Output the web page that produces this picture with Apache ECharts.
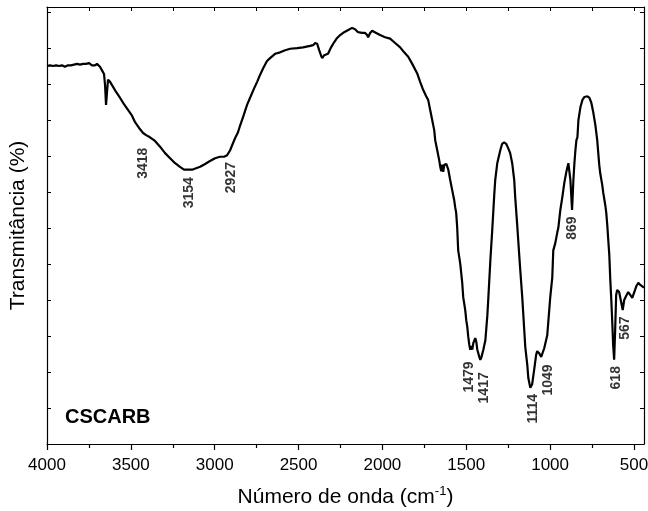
<!DOCTYPE html>
<html>
<head>
<meta charset="utf-8">
<script src="https://cdn.jsdelivr.net/npm/echarts@6/dist/echarts.min.js"></script>
<style>
  html, body { margin: 0; padding: 0; background: #fff; }
  #chart { width: 648px; height: 511px; }
</style>
</head>
<body>
<div id="chart"></div>
<script>
// FTIR spectrum of sample CSCARB: wavenumber (cm-1) vs transmittance (arbitrary units)
const wavenumbers = [
  4000, 3982, 3964, 3946, 3928, 3911, 3893, 3875, 3857, 3839, 3821, 3803, 3785, 3767, 3749,
  3732, 3714, 3702, 3684, 3672, 3660, 3654, 3648, 3642, 3636, 3624, 3606, 3588, 3565, 3541,
  3517, 3493, 3475, 3451, 3427, 3409, 3386, 3356, 3326, 3296, 3266, 3236, 3207, 3183, 3159,
  3135, 3111, 3087, 3057, 3028, 2998, 2968, 2944, 2926, 2908, 2896, 2878, 2861, 2849, 2831,
  2807, 2789, 2765, 2747, 2729, 2711, 2688, 2670, 2640, 2610, 2580, 2550, 2509, 2473, 2431,
  2413, 2401, 2389, 2377, 2365, 2359, 2347, 2336, 2324, 2306, 2288, 2270, 2252, 2228, 2204,
  2181, 2163, 2145, 2121, 2103, 2091, 2085, 2073, 2061, 2037, 2014, 1984, 1954, 1924, 1894,
  1870, 1846, 1822, 1793, 1775, 1757, 1739, 1727, 1715, 1703, 1691, 1685, 1673, 1661, 1655,
  1649, 1643, 1637, 1631, 1619, 1607, 1596, 1584, 1572, 1566, 1560, 1554, 1548, 1536, 1524,
  1518, 1506, 1500, 1494, 1488, 1482, 1476, 1470, 1464, 1458, 1446, 1440, 1434, 1422, 1416,
  1410, 1398, 1386, 1374, 1368, 1356, 1345, 1333, 1327, 1315, 1297, 1286, 1274, 1262, 1250,
  1238, 1226, 1214, 1208, 1196, 1190, 1178, 1166, 1154, 1148, 1136, 1130, 1118, 1113, 1107,
  1095, 1083, 1077, 1065, 1053, 1047, 1035, 1017, 999, 987, 981, 969, 957, 951, 939,
  927, 915, 903, 891, 885, 879, 869, 861, 855, 849, 843, 837, 831, 819, 807,
  795, 778, 766, 754, 742, 730, 719, 707, 701, 689, 683, 671, 665, 659, 653,
  647, 641, 635, 629, 624, 618, 612, 606, 600, 588, 576, 567, 558, 546, 534,
  522, 510, 498, 486, 474, 462, 450, 440
];

const transmittance = [
  52.5, 52.6, 52.5, 52.6, 52.5, 52.6, 52.4, 52.6, 52.6, 52.7, 52.8, 52.7, 52.8, 52.8, 52.9,
  52.6, 52.6, 52.8, 52.4, 51.9, 51.4, 49.9, 47.1, 48.9, 50.6, 50.3, 49.6, 48.9, 48.1, 47.2,
  46.4, 45.6, 44.7, 43.9, 43.2, 42.9, 42.6, 42.1, 41.3, 40.4, 39.7, 39.0, 38.5, 38.1, 38.1,
  38.1, 38.3, 38.5, 38.9, 39.3, 39.7, 39.9, 39.9, 40.1, 40.8, 41.5, 42.5, 43.3, 44.2, 45.4,
  47.1, 48.1, 49.4, 50.3, 51.3, 52.2, 53.2, 53.6, 54.2, 54.4, 54.7, 54.9, 55.0, 55.1, 55.3,
  55.4, 55.7, 55.6, 54.7, 53.9, 53.6, 54.0, 53.8, 54.2, 55.1, 55.8, 56.4, 56.8, 57.2, 57.5,
  57.8, 57.6, 57.2, 57.1, 57.1, 56.8, 56.5, 57.1, 57.4, 57.1, 56.8, 56.5, 56.3, 55.7, 55.1,
  54.4, 53.8, 52.8, 51.5, 50.3, 49.2, 48.3, 47.8, 46.4, 45.0, 43.6, 42.2, 40.8, 39.4, 38.5,
  37.9, 38.8, 37.8, 38.8, 38.9, 38.1, 36.7, 35.3, 33.9, 32.9, 32.1, 30.1, 26.9, 25.1, 22.4,
  20.4, 18.6, 17.2, 16.3, 14.9, 13.8, 13.1, 13.6, 13.1, 14.0, 14.7, 14.2, 13.1, 12.1, 11.7,
  12.0, 13.1, 14.4, 17.9, 20.4, 25.6, 29.7, 34.6, 36.7, 39.0, 40.8, 41.7, 41.9, 41.7, 41.1,
  40.4, 39.0, 36.7, 34.3, 30.4, 28.3, 24.2, 20.4, 15.8, 13.5, 11.0, 9.2, 7.8, 7.6, 8.3,
  10.3, 12.4, 12.9, 12.6, 12.1, 12.1, 13.3, 15.1, 20.4, 23.1, 26.9, 27.9, 29.4, 30.0, 32.5,
  34.3, 36.3, 37.8, 39.0, 38.8, 36.7, 32.5, 36.7, 39.0, 40.8, 42.2, 42.6, 45.0, 46.8, 47.8,
  48.2, 48.3, 48.1, 47.4, 46.0, 44.3, 42.2, 38.8, 37.6, 36.0, 34.9, 33.2, 32.1, 30.4, 28.3,
  26.3, 22.8, 20.0, 16.8, 13.8, 11.7, 15.8, 20.7, 21.4, 21.1, 19.7, 18.6, 20.0, 20.6, 21.1,
  20.7, 20.3, 21.1, 21.9, 22.4, 22.1, 21.9, 21.7
];

// Assigned absorption bands and the level at which each label sits
const peakWavenumbers = [3418, 3154, 2927, 1479, 1417, 1114, 1049, 869, 618, 567];
const peakLabelLevels = [39.0, 34.9, 37.0, 9.3, 7.8, 4.9, 8.9, 30.0, 9.2, 16.1];

// Axis ticks
const xMajorTicks = [4000, 3500, 3000, 2500, 2000, 1500, 1000, 500];
const xMinorTicks = [3750, 3250, 2750, 2250, 1750, 1250, 750];

const sampleName = 'CSCARB';

// Small sideways nudges (px) so crowded band labels do not collide
const labelNudge = { 2927: 4, 1417: 4, 1049: 6, 1114: 2, 618: 2, 567: 2, 3418: -1, 1479: -1 };

const FONT = '"Liberation Sans", Arial, Helvetica, sans-serif';
const X_MIN = 440, X_MAX = 4000, Y_MIN = 0, Y_MAX = 60.7;

const spectrum = wavenumbers.map((w, i) => [w, transmittance[i]]);
// labels are rotated 90°, so the second offset component moves them sideways on screen
const bandLabels = peakWavenumbers.map((w, i) => ({
  value: [w, peakLabelLevels[i]],
  label: { offset: [0, labelNudge[w] || 0] }
}));
const allQuarterTicks = xMajorTicks.concat(xMinorTicks).sort((a, b) => b - a);

const chart = echarts.init(document.getElementById('chart'), null, { renderer: 'canvas' });

const baseX = {
  type: 'value', min: X_MIN, max: X_MAX, inverse: true,
  splitLine: { show: false }
};
const baseY = {
  type: 'value', min: Y_MIN, max: Y_MAX, interval: 5,
  splitLine: { show: false }, axisLabel: { show: false }
};

chart.setOption({
  animation: false,
  backgroundColor: '#ffffff',
  grid: { left: 47, right: 4, top: 7, bottom: 67, containLabel: false, outerBoundsMode: 'none' },
  xAxis: [
    Object.assign({}, baseX, {
      position: 'bottom',
      axisLine: { show: true, lineStyle: { color: '#000', width: 1.2 } },
      axisTick: { show: true, inside: false, length: 6, customValues: xMajorTicks,
                  lineStyle: { color: '#000', width: 1.2 } },
      axisLabel: { show: true, customValues: xMajorTicks, margin: 13,
                   formatter: v => String(v),
                   color: '#000', fontSize: 17, fontFamily: FONT },
      name: '{t|Número de onda (cm}{s|-1}{t|)}',
      nameLocation: 'middle',
      nameGap: 41,
      nameTextStyle: {
        rich: {
          t: { fontSize: 21, fontFamily: FONT, color: '#000', lineHeight: 24 },
          s: { fontSize: 13, fontFamily: FONT, color: '#000', verticalAlign: 'top', lineHeight: 24, padding: [0, 0, 9, 0] }
        }
      }
    }),
    Object.assign({}, baseX, {
      position: 'bottom',
      axisLine: { show: false },
      axisTick: { show: true, inside: false, length: 4, customValues: xMinorTicks,
                  lineStyle: { color: '#000', width: 1.2 } },
      axisLabel: { show: false }
    }),
    Object.assign({}, baseX, {
      position: 'top',
      axisLine: { show: true, lineStyle: { color: '#000', width: 1.2 } },
      axisTick: { show: true, inside: true, length: 4, customValues: allQuarterTicks,
                  lineStyle: { color: '#000', width: 1 } },
      axisLabel: { show: false }
    })
  ],
  yAxis: [
    Object.assign({}, baseY, {
      position: 'left',
      axisLine: { show: true, lineStyle: { color: '#000', width: 1.2 } },
      axisTick: { show: true, inside: true, length: 4, lineStyle: { color: '#000', width: 1 } },
      name: 'Transmitância (%)',
      nameLocation: 'middle',
      nameGap: 18,
      nameTextStyle: { fontSize: 21, fontFamily: FONT, color: '#000' }
    }),
    Object.assign({}, baseY, {
      position: 'right',
      axisLine: { show: true, lineStyle: { color: '#000', width: 1.2 } },
      axisTick: { show: true, inside: true, length: 4, lineStyle: { color: '#000', width: 1 } }
    })
  ],
  series: [
    {
      name: sampleName,
      type: 'line',
      xAxisIndex: 0, yAxisIndex: 0,
      data: spectrum,
      showSymbol: false,
      symbol: 'none',
      smooth: false,
      lineStyle: { color: '#000', width: 2.2 },
      z: 3
    },
    {
      name: 'bands',
      type: 'scatter',
      xAxisIndex: 0, yAxisIndex: 0,
      data: bandLabels,
      symbolSize: 0,
      silent: true,
      label: {
        show: true,
        position: 'inside',
        rotate: 90,
        formatter: p => String(p.value[0]),
        color: '#000',
        fontSize: 14,
        fontWeight: 'bold',
        fontFamily: FONT
      },
      z: 4
    }
  ],
  graphic: [
    {
      type: 'text',
      left: 65,
      top: 407,
      style: { text: sampleName, font: 'bold 20px ' + FONT, fill: '#000' }
    }
  ]
});
</script>
</body>
</html>
